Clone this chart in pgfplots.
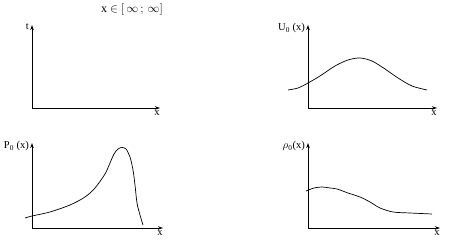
\documentclass[border=0pt]{standalone}
\usepackage{pgfplots}
\pgfplotsset{compat=1.18}
\usepackage{fontspec}
\setmainfont{Liberation Serif}
\usetikzlibrary{arrows.meta}
\pgfplotsset{
  panel/.style={
    scale only axis, clip=false,
    axis x line=bottom, axis y line=left,
    axis line style={line width=0.9pt,-{Stealth[length=5pt,width=3.5pt]}},
    xtick=\empty, ytick=\empty,
    xlabel style={at={(rel axis cs:1,0)}, anchor=north, yshift=-1pt, xshift=-3pt, inner sep=1pt},
    ylabel style={at={(rel axis cs:0,1)}, anchor=north east, rotate=-90, xshift=-2pt, yshift=3pt, inner sep=1pt},
    font=\fontsize{10.5}{12}\selectfont,
  },
  curve/.style={line width=0.7pt, black, smooth, no marks},
}
\begin{document}
\begin{tikzpicture}[x=1pt,y=1pt]
\useasboundingbox (0,0) rectangle (452,245);
% panel 1
\begin{axis}[panel, at={(32pt,137pt)}, anchor=south west,
  width=128pt, height=83pt, xmin=32, xmax=160, ymin=137, ymax=220,
  xlabel={x}, ylabel={t}]
\addplot[draw=none] coordinates {(32,137)};
\node[font=\fontsize{12}{14}\selectfont] at (axis cs:132,235) {x $\in$ $[\,\infty\,;\,\infty]$};
\end{axis}
% panel 2
\begin{axis}[panel, at={(308pt,137pt)}, anchor=south west,
  width=129pt, height=83pt, xmin=308, xmax=437, ymin=137, ymax=220,
  xlabel={x}, ylabel={U\textsubscript{0} (x)}]
\addplot[curve] coordinates {(288,155) (298,157) (308,162) (320,169) (335,179) (348,185) (360,187) (372,184) (385,176) (398,167) (412,159) (427,155)};
\end{axis}
% panel 3
\begin{axis}[panel, at={(32pt,17pt)}, anchor=south west,
  width=131pt, height=85pt, xmin=32, xmax=163, ymin=17, ymax=102,
  xlabel={x}, ylabel={P\textsubscript{0} (x)}]
\addplot[curve, tension=0.5] coordinates {(25,27) (32,29) (50,33) (70,40) (85,48) (95,57) (105,71) (110,82) (114,91) (118,96) (122,97.5) (126,96) (130,88) (133,75) (135,60) (137,42) (140,30) (143,20)};
\end{axis}
% panel 4
\begin{axis}[panel, at={(308pt,17pt)}, anchor=south west,
  width=132pt, height=85pt, xmin=308, xmax=440, ymin=17, ymax=102,
  xlabel={x}, ylabel={$\rho$\textsubscript{0}(x)}]
\addplot[curve] coordinates {(306,54) (314,57) (322,58) (330,57) (337,56) (348,52) (360,48) (370,43) (380,37) (393,33) (410,32) (432,31)};
\end{axis}
\end{tikzpicture}
\end{document}
